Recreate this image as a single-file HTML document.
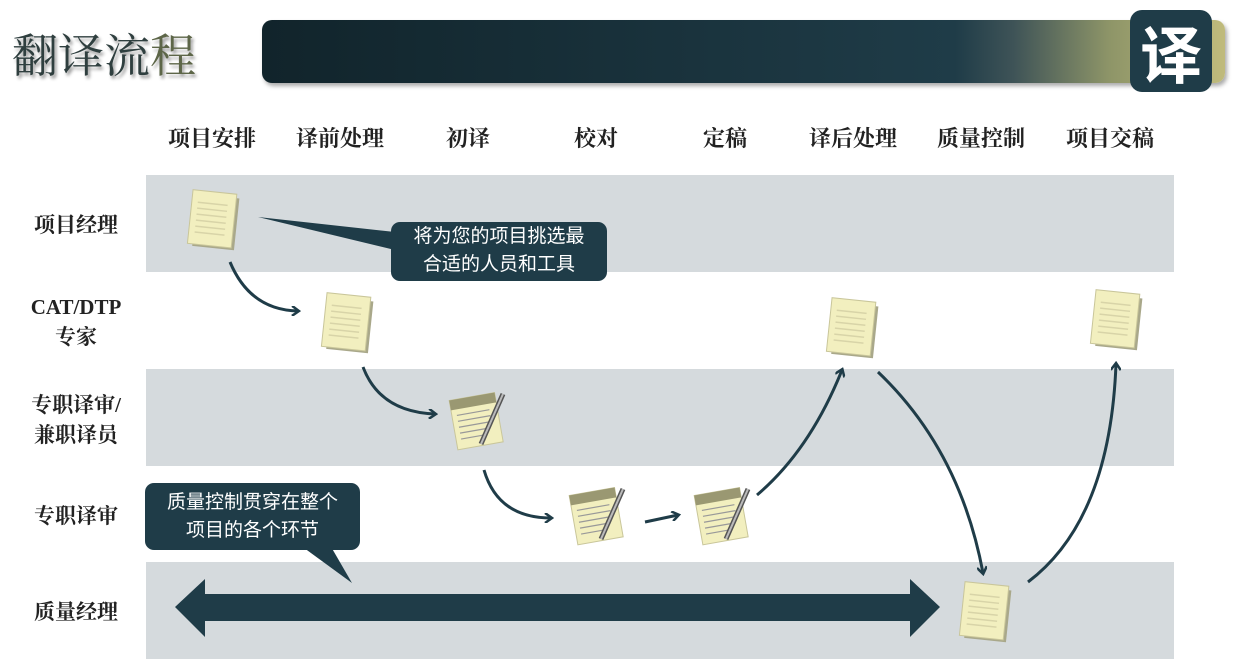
<!DOCTYPE html>
<html><head><meta charset="utf-8"><style>
body{margin:0;width:1244px;height:668px;background:#fff;position:relative;overflow:hidden;font-family:"Liberation Serif","Noto Serif CJK SC","Noto Sans CJK SC",serif;}
.a{position:absolute}
.band{position:absolute;left:146px;width:1028px;height:97px;background:#d5dadd}
.ch{position:absolute;top:122px;width:128px;text-align:center;font-size:22px;font-weight:bold;color:#222}
.rl{position:absolute;left:6px;width:140px;text-align:center;font-size:21px;font-weight:bold;color:#222;line-height:30px}
.call{position:absolute;background:#1f3c48;color:#fff;border-radius:9px;font-size:19px;text-align:center;line-height:28px;font-family:"Liberation Sans","Noto Sans CJK SC",sans-serif}
</style></head><body>
<div class="a" style="left:12px;top:20px;font-size:46px;color:#2f3f3f;text-shadow:2px 3px 3px #999;">翻译流<span style="color:#5d6648">程</span></div>
<div class="a" style="left:262px;top:20px;width:963px;height:63px;border-radius:10px;background:linear-gradient(90deg,#11242b 0%,#1f3c48 72%,#3e5357 78%,#8e9568 88%,#c0bb7c 100%);box-shadow:2px 3px 4px #aaa"></div>
<div class="a" style="left:1130px;top:10px;width:82px;height:82px;border-radius:12px;background:#1f3c48;color:#fff;font-size:62px;line-height:82px;text-align:center;font-family:'Noto Sans CJK SC',sans-serif;font-weight:bold">译</div>

<div class="band" style="top:175px"></div>
<div class="band" style="top:369px"></div>
<div class="band" style="top:562px"></div>

<div class="ch" style="left:148px">项目安排</div>
<div class="ch" style="left:276px">译前处理</div>
<div class="ch" style="left:404px">初译</div>
<div class="ch" style="left:532px">校对</div>
<div class="ch" style="left:661px">定稿</div>
<div class="ch" style="left:789px">译后处理</div>
<div class="ch" style="left:917px">质量控制</div>
<div class="ch" style="left:1046px">项目交稿</div>

<div class="rl" style="top:210px">项目经理</div>
<div class="rl" style="top:292px">CAT/DTP<br>专家</div>
<div class="rl" style="top:390px">专职译审/<br>兼职译员</div>
<div class="rl" style="top:501px">专职译审</div>
<div class="rl" style="top:597px">质量经理</div>

<svg class="a" style="left:0;top:0" width="1244" height="668">
<defs>
<g id="doc"><rect x="-22" y="-26" width="42" height="52" fill="#a9a88a" transform="rotate(6) translate(3,2)"/><rect x="-24" y="-28" width="44" height="54" fill="#f2efbf" stroke="#c9c69a" transform="rotate(6)"/>
<g stroke="#d8d4a8" stroke-width="1.5" transform="rotate(6)"><line x1="-18" y1="-16" x2="12" y2="-16"/><line x1="-18" y1="-10" x2="12" y2="-10"/><line x1="-18" y1="-4" x2="12" y2="-4"/><line x1="-18" y1="2" x2="12" y2="2"/><line x1="-18" y1="8" x2="12" y2="8"/><line x1="-18" y1="14" x2="12" y2="14"/></g></g>
<g id="pen"><rect x="-24" y="-24" width="46" height="50" fill="#f2efbf" stroke="#c9c69a" transform="rotate(-10)"/><rect x="-24" y="-24" width="46" height="10" fill="#9a9872" transform="rotate(-10)"/>
<g stroke="#999" stroke-width="1.2" transform="rotate(-10)"><line x1="-19" y1="-8" x2="14" y2="-8"/><line x1="-19" y1="-2" x2="14" y2="-2"/><line x1="-19" y1="4" x2="14" y2="4"/><line x1="-19" y1="10" x2="10" y2="10"/><line x1="-19" y1="16" x2="6" y2="16"/></g>
<line x1="26" y1="-26" x2="4" y2="24" stroke="#555" stroke-width="5"/><line x1="26" y1="-26" x2="4" y2="24" stroke="#bbb" stroke-width="2"/></g>
<marker id="m" markerWidth="10" markerHeight="10" refX="7" refY="5" orient="auto" markerUnits="userSpaceOnUse"><path d="M1,0 L8,5 L1,10" fill="none" stroke="#1f3c48" stroke-width="2.5"/></marker>
</defs>
<g fill="none" stroke="#1f3c48" stroke-width="3" marker-end="url(#m)">
<path d="M230,262 Q250,310 298,311"/>
<path d="M363,367 Q380,412 435,414"/>
<path d="M484,470 Q498,518 551,518"/>
<path d="M645,522 L678,515"/>
<path d="M757,495 Q810,450 842,370"/>
<path d="M878,372 Q960,450 983,573"/>
<path d="M1028,582 Q1110,520 1116,364"/>
</g>
<use href="#doc" x="214" y="220"/>
<use href="#doc" x="348" y="323"/>
<use href="#pen" x="477" y="420"/>
<use href="#pen" x="597" y="515"/>
<use href="#pen" x="722" y="515"/>
<use href="#doc" x="853" y="328"/>
<use href="#doc" x="1117" y="320"/>
<use href="#doc" x="986" y="612"/>
<polygon points="175,607 205,579 205,594 910,594 910,579 940,607 910,637 910,621 205,621 205,637" fill="#1f3c48"/>
<polygon points="258,217 395,232 395,250" fill="#1f3c48"/>
<polygon points="300,545 330,545 352,583" fill="#1f3c48"/>
</svg>
<div class="call" style="left:391px;top:222px;width:216px;height:58px;padding-top:1px">将为您的项目挑选最<br>合适的人员和工具</div>
<div class="call" style="left:145px;top:483px;width:215px;height:67px;padding-top:6px;box-sizing:border-box">质量控制贯穿在整个<br>项目的各个环节</div>
</body></html>
